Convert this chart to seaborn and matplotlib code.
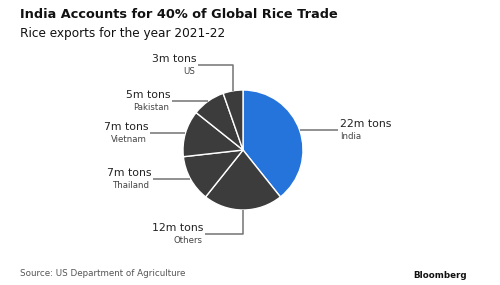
import matplotlib
matplotlib.use("Agg")
import matplotlib.pyplot as plt
import seaborn as sns
import numpy as np

# ---- data ----
countries = ["India", "Others", "Thailand", "Vietnam", "Pakistan", "US"]
exports = [22, 12, 7, 7, 5, 3]
value_labels = ["22m tons", "12m tons", "7m tons", "7m tons", "5m tons", "3m tons"]

title = "India Accounts for 40% of Global Rice Trade"
subtitle = "Rice exports for the year 2021-22"
source = "Source: US Department of Agriculture"

sns.set_theme(style="white")
plt.rcParams['font.family'] = ['DejaVu Sans']

W, H = 500, 285
R = 60.0
cx, cy = 243, 150
fig = plt.figure(figsize=(W / 100, H / 100), dpi=100)
fig.patch.set_facecolor("white")
ax = fig.add_axes([0, 0, 1, 1])

colors = ["#2474dc"] + ["#3c3c3c"] * (len(exports) - 1)
wedges, _ = ax.pie(exports, colors=colors, startangle=90, counterclock=False,
                   radius=1, wedgeprops=dict(edgecolor="white", linewidth=1.0))
ax.set_xlim(-cx / R, (W - cx) / R)
ax.set_ylim(-(H - cy) / R, cy / R)
ax.set_aspect("auto")
ax.axis("off")

# leader layout: (kind, params) in pie units
layout = {
    "India": ("h", 1.58),
    "Others": ("vh", -1.40, -0.63),
    "Thailand": ("h", -1.50),
    "Vietnam": ("h", -1.55),
    "Pakistan": ("h", -1.18),
    "US": ("vh", 1.42, -0.75),
}
line_col = "#737373"
for w, name, lab in zip(wedges, countries, value_labels):
    th = np.deg2rad((w.theta1 + w.theta2) / 2)
    x0, y0 = np.cos(th), np.sin(th)
    spec = layout[name]
    if spec[0] == "h":
        xe, ye = spec[1], y0
        ax.plot([x0, xe], [y0, ye], color=line_col, lw=1.1, solid_capstyle="butt")
    else:
        ye, xe = spec[1], spec[2]
        ax.plot([x0, x0, xe], [y0, ye, ye], color=line_col, lw=1.1, solid_capstyle="butt")
    if xe > 0:
        ha, xt = "left", xe + 0.04
    else:
        ha, xt = "right", xe - 0.03
    ax.text(xt, ye + 0.10, lab, ha=ha, va="center", fontsize=7.8, color="#222222")
    ax.text(xt - (0 if xe > 0 else 0.02), ye - 0.11, name, ha=ha, va="center",
            fontsize=6.2, color="#444444")

def fx(px):
    return px / W

def fy(py):
    return 1 - py / H

fig.text(fx(20), fy(15), title, fontsize=9.3, fontweight="bold", color="#111111",
         va="center", ha="left")
fig.text(fx(20), fy(33), subtitle, fontsize=8.7, color="#111111",
         va="center", ha="left")
fig.text(fx(20), fy(273), source, fontsize=6.35, color="#555555",
         va="center", ha="left")
fig.text(fx(467), fy(275), "Bloomberg", fontsize=6.3, fontweight="bold",
         color="#111111", va="center", ha="right")

fig.savefig("out.png", dpi=100, facecolor="white")
